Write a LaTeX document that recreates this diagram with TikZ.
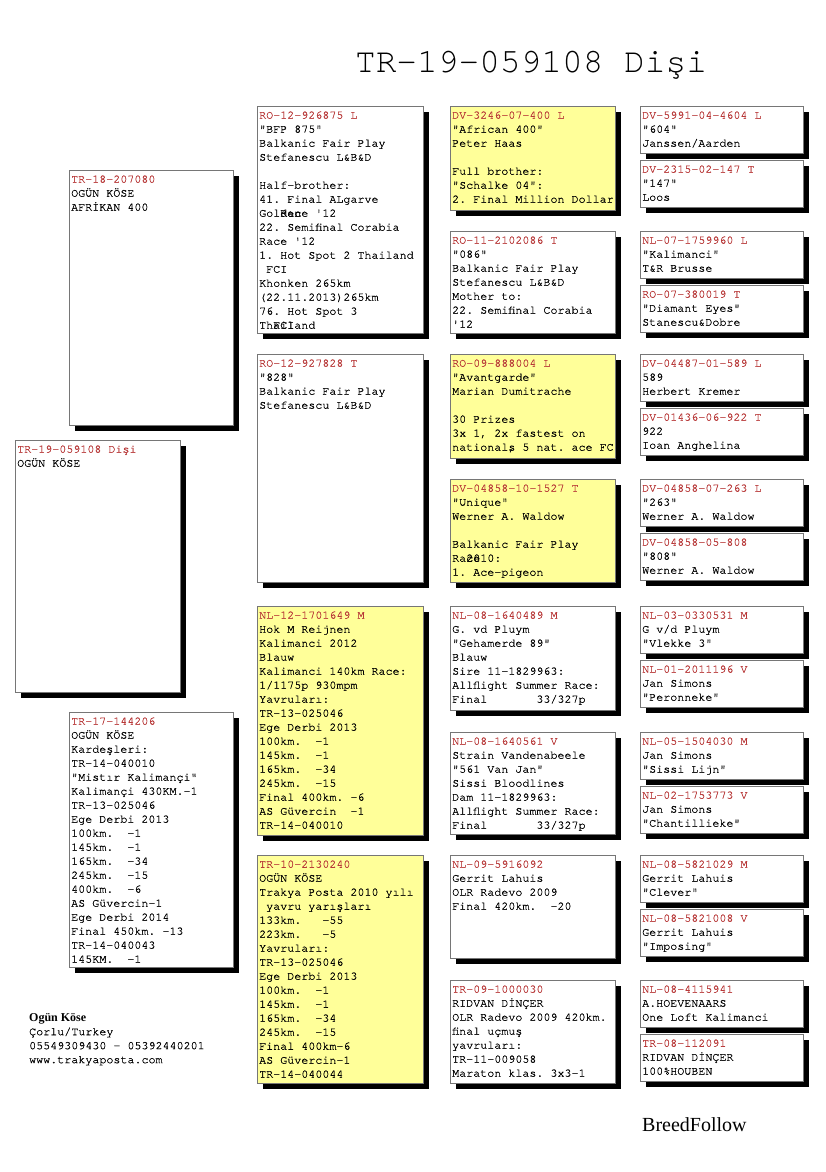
\documentclass[tikz,border=0pt]{standalone}
\usepackage{fontspec}
\setmainfont{Liberation Serif}
\setmonofont{TeX Gyre Cursor}
\newfontfamily\boxmono{TeX Gyre Cursor}[FakeBold=0.6]
\usetikzlibrary{shadows,calc}
\definecolor{idred}{RGB}{184,56,56}
\definecolor{pyel}{RGB}{255,255,153}
\definecolor{pgray}{RGB}{118,118,118}
\pgfdeclarelayer{bg}\pgfsetlayers{bg,main}
\tikzset{
  pbox/.style={draw=pgray,line width=0.8pt,inner sep=0pt,anchor=north west,
    drop shadow={shadow xshift=6pt,shadow yshift=-6pt,fill=black,opacity=1}},
  ptext/.style={anchor=north west,inner sep=0pt,align=left,
    font=\boxmono\frenchspacing\fontsize{11.7}{14}\selectfont},
  conn/.style={draw=black,line width=0.8pt}
}
\newcommand\pedbox[8]{%
  \node[pbox,fill=#6,minimum width=#4pt,minimum height=#5pt] (#1) at (#2,#3) {};
  \begin{scope}
    \clip (#1.north west) rectangle (#1.south east);
    \node[ptext] (#1t) at ($(#1.north west)+(2,2.5)$) {\rule{0pt}{10pt}\textcolor{idred}{#7}\\#8};
  \end{scope}}
\begin{document}
\begin{tikzpicture}[x=1pt,y=-1pt]
\useasboundingbox[fill=white] (0,0) rectangle (825,1172);
\node[font=\ttfamily\fontsize{34.5}{40}\selectfont,anchor=base,inner sep=0pt] (title) at (531,73) {TR-19-059108 Dişi};
% generation 0
\pedbox{S}{15}{440}{165}{252}{white}{TR-19-059108 Dişi}{OGÜN KÖSE}
% generation 1
\pedbox{A}{69}{170}{164}{255}{white}{TR-18-207080}{OGÜN KÖSE\\AFRİKAN 400}
\pedbox{B}{69}{712}{164}{255}{white}{TR-17-144206}{OGÜN KÖSE\\Kardeşleri:\\TR-14-040010\\"Mistır Kalimançi"\\Kalimançi 430KM.-1\\TR-13-025046\\Ege Derbi 2013\\100km.~~-1\\145km.~~-1\\165km.~~-34\\245km.~~-15\\400km.~~-6\\AS Güvercin-1\\Ege Derbi 2014\\Final 450km. -13\\TR-14-040043\\145KM.~~-1}
% generation 2
\pedbox{C1}{257}{106}{166}{227}{white}{RO-12-926875 L}{"BFP 875"\\Balkanic Fair Play\\Stefanescu L\&B\&D\\\mbox{}\\Half-brother:\\41. Final ALgarve\\Gol\rlap{den}Race '12\\22. Semifinal Corabia\\Race '12\\1. Hot Spot 2 Thailand\\~FCI\\Khonken 265km\\(22.11.2013)265km\\76. Hot Spot 3\\Th\rlap{FCI}ailand}
\pedbox{C2}{257}{354}{166}{228}{white}{RO-12-927828 T}{"828"\\Balkanic Fair Play\\Stefanescu L\&B\&D}
\pedbox{C3}{257}{606}{166}{229}{pyel}{NL-12-1701649 M}{Hok M Reijnen\\Kalimanci 2012\\Blauw\\Kalimanci 140km Race:\\1/1175p 930mpm\\Yavruları:\\TR-13-025046\\Ege Derbi 2013\\100km.~~-1\\145km.~~-1\\165km.~~-34\\245km.~~-15\\Final 400km. -6\\AS Güvercin~~-1\\TR-14-040010}
\pedbox{C4}{257}{855}{166}{228}{pyel}{TR-10-2130240}{OGÜN KÖSE\\Trakya Posta 2010 yılı\\~yavru yarışları\\133km.~~~-55\\223km.~~~-5\\Yavruları:\\TR-13-025046\\Ege Derbi 2013\\100km.~~-1\\145km.~~-1\\165km.~~-34\\245km.~~-15\\Final 400km-6\\AS Güvercin-1\\TR-14-040044}
% generation 3
\pedbox{D1}{450}{106}{165}{104}{pyel}{DV-3246-07-400 L}{"African 400"\\Peter Haas\\\mbox{}\\Full brother:\\"Schalke 04":\\2. Final Million Dollar}
\pedbox{D2}{450}{231}{165}{102}{white}{RO-11-2102086 T}{"086"\\Balkanic Fair Play\\Stefanescu L\&B\&D\\Mother to:\\22. Semifinal Corabia\\'12}
\pedbox{D3}{450}{354}{165}{104}{pyel}{RO-09-888004 L}{"Avantgarde"\\Marian Dumitrache\\\mbox{}\\30 Prizes\\3x 1, 2x fastest on\\national\rlap{,}s 5 nat. ace FC}
\pedbox{D4}{450}{479}{165}{103}{pyel}{DV-04858-10-1527 T}{"Unique"\\Werner A. Waldow\\\mbox{}\\Balkanic Fair Play\\Ra\rlap{ce}2010:\\1. Ace-pigeon}
\pedbox{D5}{450}{606}{165}{104}{white}{NL-08-1640489 M}{G. vd Pluym\\"Gehamerde 89"\\Blauw\\Sire 11-1829963:\\Allflight Summer Race:\\Final~~~~~~~33/327p}
\pedbox{D6}{450}{732}{165}{102}{white}{NL-08-1640561 V}{Strain Vandenabeele\\"561 Van Jan"\\Sissi Bloodlines\\Dam 11-1829963:\\Allflight Summer Race:\\Final~~~~~~~33/327p}
\pedbox{D7}{450}{855}{165}{103}{white}{NL-09-5916092}{Gerrit Lahuis\\OLR Radevo 2009\\Final 420km.~~-20}
\pedbox{D8}{450}{980}{165}{103}{white}{TR-09-1000030}{RIDVAN DİNÇER\\OLR Radevo 2009 420km.\\final uçmuş\\yavruları:\\TR-11-009058\\Maraton klas. 3x3-1}
% generation 4
\pedbox{E1}{640}{106}{163}{47}{white}{DV-5991-04-4604 L}{"604"\\Janssen/Aarden}
\pedbox{E2}{640}{160}{163}{47}{white}{DV-2315-02-147 T}{"147"\\Loos}
\pedbox{E3}{640}{231}{163}{47}{white}{NL-07-1759960 L}{"Kalimanci"\\T\&R Brusse}
\pedbox{E4}{640}{285}{163}{47}{white}{RO-07-380019 T}{"Diamant Eyes"\\Stanescu\&Dobre}
\pedbox{E5}{640}{354}{163}{47}{white}{DV-04487-01-589 L}{589\\Herbert Kremer}
\pedbox{E6}{640}{408}{163}{47}{white}{DV-01436-06-922 T}{922\\Ioan Anghelina}
\pedbox{E7}{640}{479}{163}{47}{white}{DV-04858-07-263 L}{"263"\\Werner A. Waldow}
\pedbox{E8}{640}{533}{163}{47}{white}{DV-04858-05-808}{"808"\\Werner A. Waldow}
\pedbox{E9}{640}{606}{163}{47}{white}{NL-03-0330531 M}{G v/d Pluym\\"Vlekke 3"}
\pedbox{E10}{640}{660}{163}{47}{white}{NL-01-2011196 V}{Jan Simons\\"Peronneke"}
\pedbox{E11}{640}{732}{163}{47}{white}{NL-05-1504030 M}{Jan Simons\\"Sissi Lijn"}
\pedbox{E12}{640}{786}{163}{47}{white}{NL-02-1753773 V}{Jan Simons\\"Chantillieke"}
\pedbox{E13}{640}{855}{163}{47}{white}{NL-08-5821029 M}{Gerrit Lahuis\\"Clever"}
\pedbox{E14}{640}{909}{163}{47}{white}{NL-08-5821008 V}{Gerrit Lahuis\\"Imposing"}
\pedbox{E15}{640}{980}{163}{47}{white}{NL-08-4115941}{A.HOEVENAARS\\One Loft Kalimanci}
\pedbox{E16}{640}{1034}{163}{47}{white}{TR-08-112091}{RIDVAN DİNÇER\\100\%HOUBEN}
% footer
\node[ptext] (owner) at (29,1011) {\rule{0pt}{10pt}{\rmfamily\bfseries\fontsize{12}{14}\selectfont Ogün Köse}\\Çorlu/Turkey\\05549309430 - 05392440201\\www.trakyaposta.com};
\node[font=\rmfamily\fontsize{20}{24}\selectfont,anchor=base west,inner sep=0pt] (brand) at (642,1131) {BreedFollow};
% connectors
\begin{pgfonlayer}{bg}
\draw[conn] ($(A.north west)+(0,144)$) -- ++(-26,0) |- ($(B.north west)+(0,115)$);
\draw[conn] ($(A.north east)+(0,144)$) -- ++(14,0);
\draw[conn] ($(C1.north west)+(0,73)$) -- ++(-10,0) |- ($(C2.north west)+(0,73)$);
\draw[conn] ($(B.north east)+(0,121)$) -- ++(14,0);
\draw[conn] ($(C3.north west)+(0,108)$) -- ++(-10,0) |- ($(C4.north west)+(0,118)$);
\foreach \p/\a/\b in {C1/D1/D2,C2/D3/D4,C3/D5/D6,C4/D7/D8}{
  \draw[conn] ($(\p.north east)+(0,114)$) -- ++(16,0);
  \draw[conn] ($(\a.north west)+(0,53)$) -- ++(-11,0) |- ($(\b.north west)+(0,53)$);
}
\foreach \p/\a/\b in {D1/E1/E2,D2/E3/E4,D3/E5/E6,D4/E7/E8,D5/E9/E10,D6/E11/E12,D7/E13/E14,D8/E15/E16}{
  \draw[conn] ($(\p.north east)+(0,53)$) -- ++(14,0);
  \draw[conn] ($(\a.north west)+(0,24)$) -- ++(-11,0) |- ($(\b.north west)+(0,24)$);
}
\end{pgfonlayer}
\end{tikzpicture}
\end{document}
